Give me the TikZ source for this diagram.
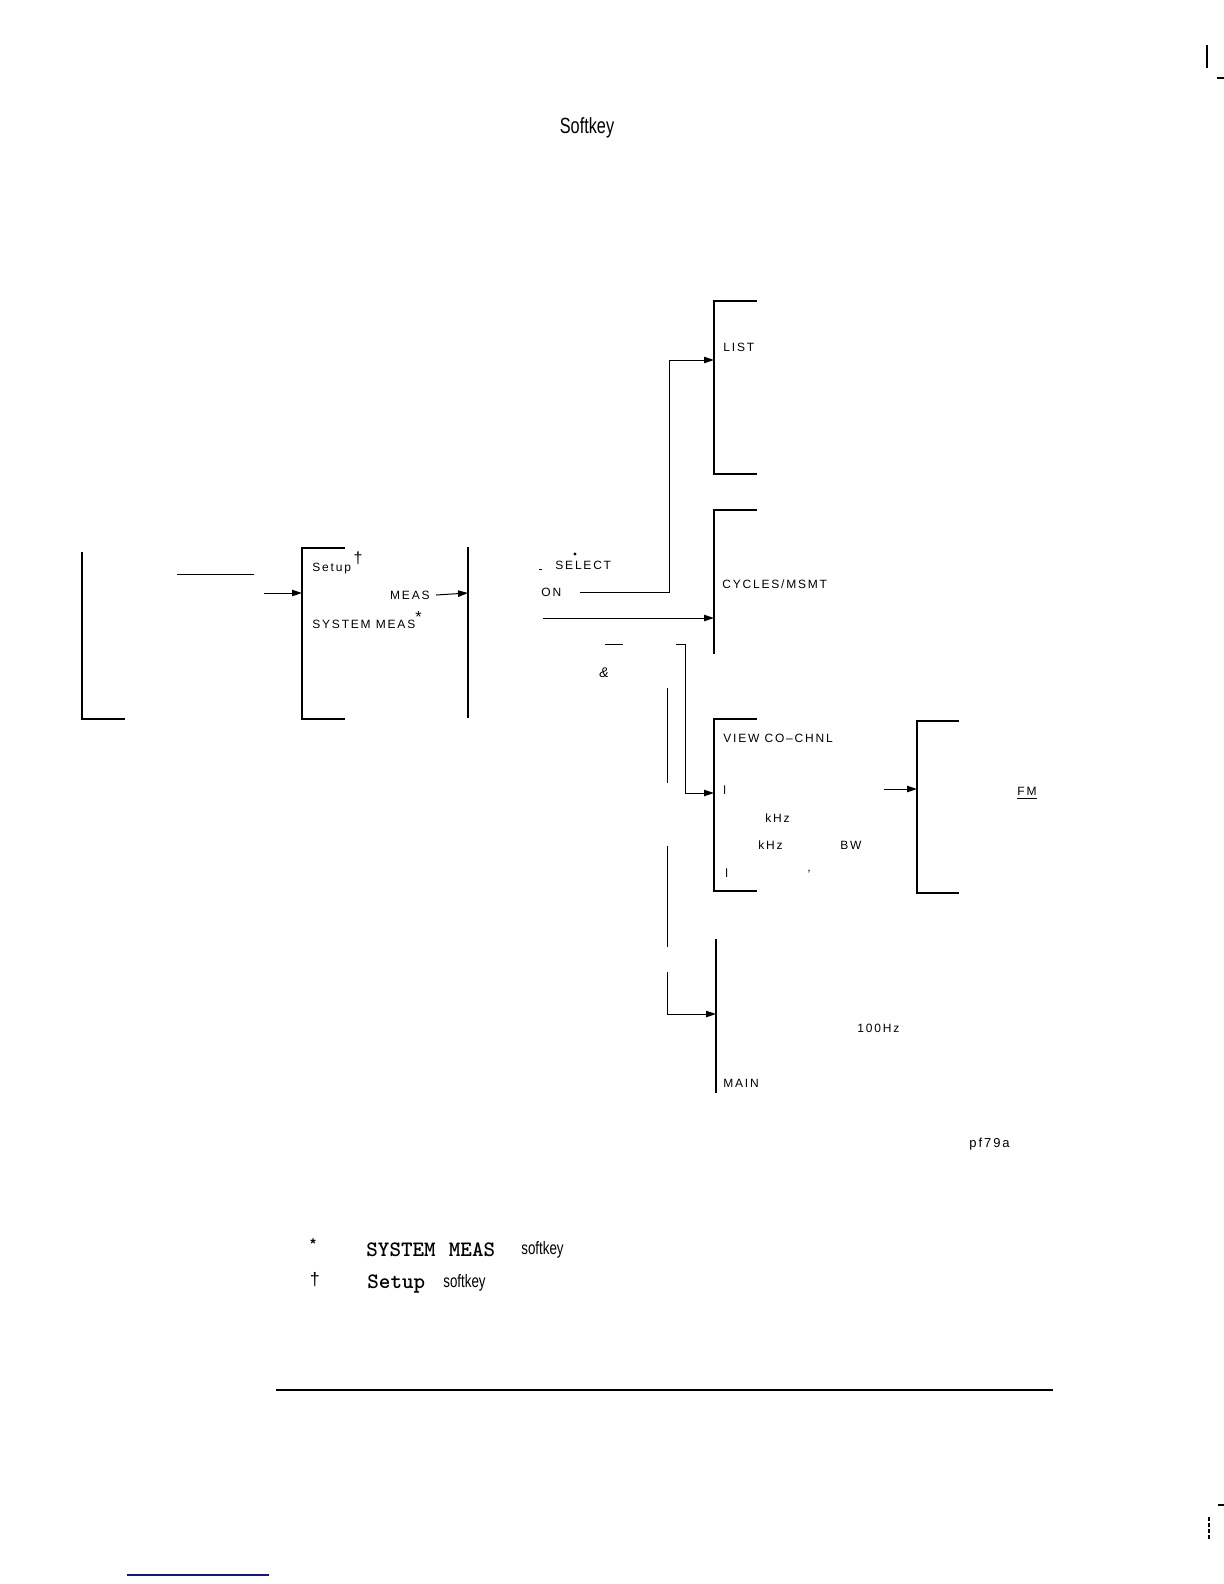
\documentclass[tikz,border=0pt]{standalone}
\usepackage{fontspec}
\setmainfont{Liberation Sans}
\newfontfamily\hpfont[LetterSpace=15]{Liberation Sans}
\newfontfamily\narrowfont[FakeStretch=0.74]{Liberation Sans}
\usetikzlibrary{arrows.meta}
\begin{document}
\begin{tikzpicture}[x=0.5pt,y=-0.5pt,
  box/.style={line width=1.2pt},
  conn/.style={line width=0.5pt},
  arr/.style={conn,-{Triangle[length=5pt,width=3.2pt]}},
  lbl/.style={font=\hpfont\fontsize{6}{7}\selectfont,inner sep=0pt,anchor=west},
  nar/.style={font=\narrowfont\fontsize{9}{10}\selectfont,inner sep=0pt,anchor=west},
  mono/.style={font=\ttfamily\bfseries\fontsize{11}{12}\selectfont,inner sep=0pt,anchor=west}]
\useasboundingbox (0,0) rectangle (1224,1584);
% page marks
\draw[line width=0.8pt] (1207,45) -- (1207,68);
\draw[line width=0.8pt] (1217,78) -- (1224,78);
\draw[line width=0.8pt] (1218,1505) -- (1224,1505);
\draw[line width=0.8pt,dash pattern=on 2pt off 1pt] (1209,1517) -- (1209,1539);
\draw[line width=0.8pt,color={rgb,255:red,20;green,20;blue,140}] (127,1575) -- (269,1575);
% title
\node[font=\narrowfont\fontsize{11}{12}\selectfont,inner sep=0pt] (title) at (587,128) {Softkey};
% left bracket
\draw[box] (82,552) -- (82,719) -- (125,719);
\draw[conn] (177,574) -- (254,574);
\coordinate (a1) at (264,593);
\coordinate (b2in) at (302,593);
\draw[arr] (a1) -- (b2in);
% box 2
\draw[box] (345,548) -- (302,548) -- (302,719) -- (345,719);
\node[lbl] (setup) at (312,563) {Setup\raisebox{1.2ex}{\fontsize{8}{8}\selectfont\,†}};
\node[lbl,anchor=east] (meas) at (430,595) {MEAS};
\node[lbl] (sysmeas) at (312,620) {SYSTEM MEAS\raisebox{1ex}{\fontsize{8}{8}\selectfont*}};
\coordinate (b3in) at (468,593);
\draw[arr] ([xshift=3]meas.east) -- (b3in);
\draw[box] (468,547) -- (468,718);
% select / on
\draw[conn] (539,569) -- (542,569);
\node[lbl] (select) at (555,565) {SELECT};
\fill (575,554) circle (1.6);
\node[lbl] (on) at (541,592) {ON};
% LIST box
\draw[box] (757,301) -- (714,301) -- (714,474) -- (757,474);
\node[lbl] (list) at (723,347) {LIST};
\coordinate (listin) at (714,360);
\draw[arr] ([xshift=9]on.east) -| (669,360) -- (listin);
% CYCLES box
\draw[box] (757,510) -- (714,510) -- (714,654);
\node[lbl] (cycles) at (722,584) {CYCLES/MSMT};
\coordinate (a2) at (543,618);
\coordinate (cycin) at (714,618);
\draw[arr] (a2) -- (cycin);
% & branch
\draw[conn] (605,644) -- (623,644);
\node[font=\itshape\fontsize{7}{8}\selectfont,inner sep=0pt] (amp) at (604,673) {\&};
\coordinate (viewin) at (714,793);
\draw[arr] (676,644) -- (685,644) -- (685,793) -- (viewin);
% left vertical segments
\draw[conn] (667,688) -- (667,783);
\draw[conn] (667,846) -- (667,947);
\coordinate (mainin) at (716,1014);
\draw[arr] (667,972) -- (667,1014) -- (mainin);
% VIEW box
\draw[box] (757,719) -- (714,719) -- (714,891) -- (757,891);
\node[lbl] (view) at (723,738) {VIEW CO–CHNL};
\node[lbl] (v1) at (723,790) {l};
\node[lbl] (v2) at (765,818) {kHz};
\node[lbl] (v3) at (758,845) {kHz};
\node[lbl] (v3b) at (840,845) {BW};
\node[lbl] (v4) at (725,873) {l};
\node[lbl] (v4b) at (807,872) {,};
% FM box
\coordinate (a3) at (884,789);
\coordinate (fmin) at (917,789);
\draw[arr] (a3) -- (fmin);
\draw[box] (959,721) -- (917,721) -- (917,893) -- (959,893);
\node[lbl] (fm) at (1017,793) {\underline{FM}};
% MAIN
\draw[line width=0.7pt] (716,939) -- (716,1093);
\node[lbl] (hz) at (857,1028) {100Hz};
\node[lbl] (main) at (723,1083) {MAIN};
\node[lbl,font=\hpfont\fontsize{6.5}{7}\selectfont] (pf) at (969,1144) {pf79a};
% footnotes
\node[inner sep=0pt,font=\bfseries\fontsize{7}{8}\selectfont] (star) at (313,1244) {*};
\node[mono] (fn1) at (366,1250) {SYSTEM\hspace{0.6em}MEAS};
\node[nar] (fn1b) at (521,1250) {softkey};
\node[inner sep=0pt,font=\fontsize{9}{10}\selectfont] (dag) at (315,1280) {†};
\node[mono] (fn2) at (367,1284) {Setup};
\node[nar] (fn2b) at (443,1283) {softkey};
% rule
\draw[line width=0.6pt] (276,1390) -- (1053,1390);
\end{tikzpicture}
\end{document}
